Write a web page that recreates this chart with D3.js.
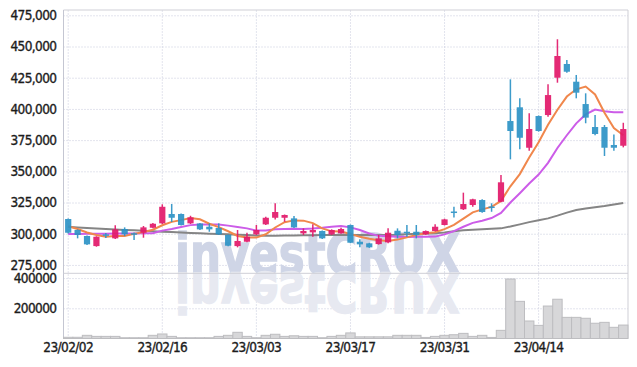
<!DOCTYPE html>
<html>
<head>
<meta charset="utf-8">
<script src="https://cdnjs.cloudflare.com/ajax/libs/d3/7.8.5/d3.min.js"></script>
<style>
  body { margin: 0; background: #fff; }
  .tick text { font-family: "DejaVu Sans Condensed", "DejaVu Sans", sans-serif; font-size: 13.5px; letter-spacing: -0.6px; fill: #1c1c1c; stroke: #1c1c1c; stroke-width: 0.35px; }
  .grid .tick line { stroke: #c6c9dc; stroke-dasharray: 1,2; }
</style>
</head>
<body>
<script>
// DATA
var dates = [
  "23/02/02","23/02/03","23/02/06","23/02/07","23/02/08","23/02/09","23/02/10","23/02/13","23/02/14","23/02/15",
  "23/02/16","23/02/17","23/02/20","23/02/21","23/02/22","23/02/23","23/02/24","23/02/27","23/02/28","23/03/02",
  "23/03/03","23/03/06","23/03/07","23/03/08","23/03/09","23/03/10","23/03/13","23/03/14","23/03/15","23/03/16",
  "23/03/17","23/03/20","23/03/21","23/03/22","23/03/23","23/03/24","23/03/27","23/03/28","23/03/29","23/03/30",
  "23/03/31","23/04/03","23/04/04","23/04/05","23/04/06","23/04/07","23/04/10","23/04/11","23/04/12","23/04/13",
  "23/04/14","23/04/17","23/04/18","23/04/19","23/04/20","23/04/21","23/04/24","23/04/25","23/04/26","23/04/27"];
var opens = [
  311800,303000,298200,290100,299500,296300,303800,300400,300800,304800,
  308300,315800,315800,308300,308200,305600,304600,299000,290100,293600,
  299500,307500,312800,312800,312300,300300,301100,302200,299500,300300,
  307000,293600,292300,291700,293100,302400,301600,301600,299500,302200,
  307000,317800,319600,323000,327000,321800,325600,390300,401300,368900,
  394300,395100,425000,436000,421800,403900,385500,385500,371100,370500];
var highs = [
  312200,303500,298500,298000,300600,306700,305100,301000,306200,308500,
  323600,323800,316200,314400,308600,308300,308300,299300,303000,300800,
  307000,313600,324400,315400,314200,304300,307500,302600,303500,304800,
  307400,295500,292700,299000,304300,304300,307000,307000,302600,307500,
  312000,321600,332900,328000,327600,324400,347000,423700,408500,396500,
  394700,419700,455800,439200,427200,412500,395100,387100,379600,388900];
var lows = [
  300200,296300,291000,289600,296600,295800,298200,295000,296800,304300,
  307800,309400,306500,307800,303000,301600,299000,290000,289100,293200,
  299000,307000,311500,309600,304600,299000,297600,295800,299000,299900,
  292400,289100,288700,291300,292300,296300,297600,296300,299100,301800,
  306600,313100,319000,321600,316800,317600,325200,359600,367600,366500,
  381800,393800,421000,429000,408500,388500,379000,362300,366500,369200];
var closes = [
  300800,299000,291500,297600,298800,303500,299500,300000,305100,308000,
  321600,312800,307000,313100,303500,303500,299500,290400,294200,297600,
  303000,312800,317400,315000,305100,302200,303000,296300,303000,303800,
  292800,291500,289100,296300,300800,299000,300300,299000,302200,305600,
  311500,317200,323800,327600,317400,321400,341200,382300,376900,383900,
  382300,411100,442400,429800,413000,393000,379900,368900,368900,383900];
var volumes = [
  8000,8000,21000,14000,14000,14000,5000,5000,5000,21000,
  30000,14000,5000,5000,5000,5000,14000,21000,41000,14000,
  5000,21000,28000,14000,18000,14000,14000,5000,14000,21000,
  37000,11000,11000,11000,11000,21000,21000,21000,7000,14000,
  21000,25000,34000,14000,21000,7000,54000,394000,246000,116000,
  87000,215000,260000,140000,140000,134000,101000,107000,74000,89000];
var ma5 = [
  306000,303800,301000,299000,297500,298100,298200,299900,301400,303200,
  306800,309500,310900,312500,311600,308000,305300,302000,298200,297000,
  296900,299600,305000,309200,310700,310500,308500,304300,301900,301700,
  299800,297500,296000,294700,294100,295300,297100,299100,300300,301200,
  303700,307100,312100,317100,319500,321500,326300,338000,347800,361100,
  373300,387300,399300,409900,415700,417900,411600,396900,384700,378900];
var ma10 = [
  299700,299800,299900,300000,300000,300100,300200,300200,300300,300400,
  302500,303800,305400,306900,307400,307400,307400,306500,305400,304300,
  302500,302500,303500,303700,303900,303700,304100,304700,305500,306200,
  305100,303000,300200,298300,297900,297600,297300,297600,297500,297700,
  299500,302100,305600,308700,310400,312600,316700,325000,332500,340300,
  347400,356800,368700,378900,388400,395600,399500,398100,397300,397300];
var ma60 = [
  305500,305000,304600,304200,303800,303400,303000,302700,302300,302000,
  301600,301300,300900,300600,300300,300000,299800,299500,299200,298900,
  298600,298400,298400,298500,298600,298700,298800,298900,298900,299000,
  299000,299000,299000,299000,299000,299100,299500,300000,300200,300400,
  301000,302000,302700,303100,303500,303900,304300,305800,307500,309300,
  310800,312300,314500,316900,319000,320300,321300,322200,323500,324600];
var priceTicks = [275000, 300000, 325000, 350000, 375000, 400000, 425000, 450000, 475000];
var volumeTicks = [200000, 400000];
var dateTicks = ["23/02/02", "23/02/16", "23/03/03", "23/03/17", "23/03/31", "23/04/14"];

var data = dates.map(function (d, i) {
    return { date: d, open: opens[i], high: highs[i], low: lows[i], close: closes[i],
             volume: volumes[i], ma5: ma5[i], ma10: ma10[i], ma60: ma60[i] };
});

// LAYOUT
var width = 637, height = 367;
var plotLeft = 63.5, plotRight = 628, plotTop = 10, plotSplit = 273.3, plotBottom = 338.5;
var upColor = "#e2196a", downColor = "#2d93c6";

var svg = d3.select("body").append("svg")
    .attr("width", width)
    .attr("height", height);

var x = d3.scaleBand().domain(dates).range([plotLeft, plotRight]).padding(0);
var yPrice = d3.scaleLinear().domain([268300, 479250]).range([plotSplit, plotTop]);
var yVol = d3.scaleLinear().domain([0, 431800]).range([plotBottom, plotSplit]);
var cx = function (d) { return x(d) + x.bandwidth() / 2; };

// GRID + AXES
svg.append("g")
    .attr("class", "grid")
    .attr("transform", "translate(" + plotLeft + ",0)")
    .call(d3.axisLeft(yPrice).tickValues(priceTicks).tickSize(-(plotRight - plotLeft)).tickPadding(7).tickFormat(d3.format(",")))
    .call(g => g.select(".domain").remove());

svg.append("g")
    .attr("class", "grid")
    .attr("transform", "translate(" + plotLeft + ",0)")
    .call(d3.axisLeft(yVol).tickValues(volumeTicks).tickSize(-(plotRight - plotLeft)).tickPadding(7).tickFormat(d3.format("d")))
    .call(g => g.select(".domain").remove());

var xAxis = d3.axisBottom(x).tickValues(dateTicks).tickSize(-(plotBottom - plotTop)).tickPadding(4);
svg.append("g")
    .attr("class", "grid")
    .attr("transform", "translate(0," + plotBottom + ")")
    .call(xAxis)
    .call(g => g.select(".domain").remove());

// watermark + reflection
var wm = svg.append("g").style("font-family", "DejaVu Sans").style("font-weight", "bold").style("font-size", "56px");
wm.append("text")
    .attr("x", 175).attr("y", plotSplit)
    .attr("textLength", 285).attr("lengthAdjust", "spacingAndGlyphs")
    .style("fill", "#cfd5e6").style("stroke", "#cfd5e6").style("stroke-width", 1.5)
    .text("investCRUX");
wm.append("text")
    .attr("x", 175).attr("y", plotSplit)
    .attr("textLength", 285).attr("lengthAdjust", "spacingAndGlyphs")
    .attr("transform", "translate(0," + (2 * plotSplit) + ") scale(1,-1)")
    .style("fill", "#e7e9f1").style("stroke", "#e7e9f1").style("stroke-width", 1.5)
    .text("investCRUX");

// panel borders
var border = svg.append("g").style("stroke", "#cfcfd6").style("stroke-width", 1).style("fill", "none");
border.append("line").attr("x1", plotLeft).attr("x2", plotRight).attr("y1", plotTop).attr("y2", plotTop);
border.append("line").attr("x1", plotRight).attr("x2", plotRight).attr("y1", plotTop).attr("y2", plotBottom);
border.append("line").attr("x1", plotLeft).attr("x2", plotLeft).attr("y1", plotTop).attr("y2", plotBottom).style("stroke", "#c4c6d2");
border.append("line").attr("x1", plotLeft).attr("x2", plotRight).attr("y1", plotSplit).attr("y2", plotSplit);
border.append("line").attr("x1", plotLeft).attr("x2", plotRight).attr("y1", plotBottom).attr("y2", plotBottom).style("stroke", "#b0b0b0");

// VOLUME
svg.selectAll(".vol")
    .data(data)
    .enter()
    .append("rect")
    .attr("class", "vol")
    .attr("x", d => x(d.date))
    .attr("width", x.bandwidth())
    .attr("y", d => yVol(d.volume))
    .attr("height", d => plotBottom - yVol(d.volume))
    .style("fill", "#d7d7d9")
    .style("stroke", "#bdbdc0")
    .style("stroke-width", 1);

// MOVING AVERAGES
var lines = [
    { key: "ma60", color: "#858585" },
    { key: "ma10", color: "#cc5ce8" },
    { key: "ma5", color: "#f0874c" }
];
lines.forEach(function (l) {
    svg.append("path")
        .datum(data)
        .attr("d", d3.line().x(d => cx(d.date)).y(d => yPrice(d[l.key])))
        .style("fill", "none")
        .style("stroke", l.color)
        .style("stroke-width", 2);
});

// CANDLES
var candle = svg.selectAll(".candle")
    .data(data)
    .enter()
    .append("g")
    .attr("class", "candle")
    .style("opacity", 0.92);

candle.append("line")
    .attr("x1", d => cx(d.date)).attr("x2", d => cx(d.date))
    .attr("y1", d => yPrice(d.high)).attr("y2", d => yPrice(d.low))
    .style("stroke", d => d.close >= d.open ? upColor : downColor)
    .style("stroke-width", 1.5);

var bw = x.bandwidth() * 0.66;
candle.append("rect")
    .attr("x", d => cx(d.date) - bw / 2)
    .attr("width", bw)
    .attr("y", d => yPrice(Math.max(d.open, d.close)))
    .attr("height", d => Math.max(1.5, Math.abs(yPrice(d.open) - yPrice(d.close))))
    .style("fill", d => d.close >= d.open ? upColor : downColor);
</script>
</body>
</html>
